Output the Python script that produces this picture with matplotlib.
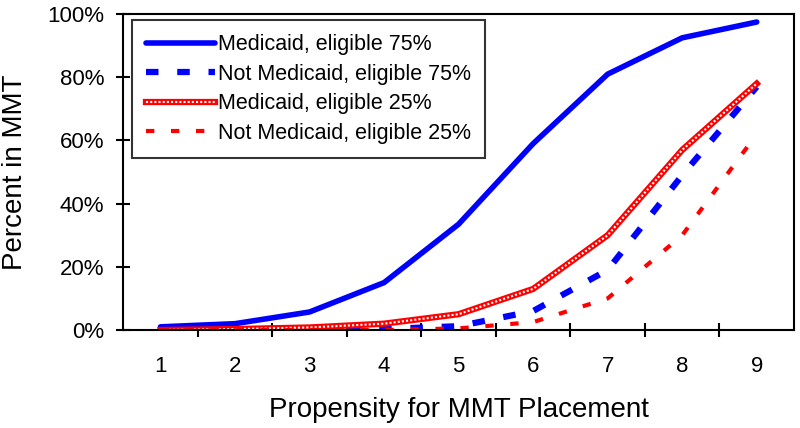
import matplotlib
matplotlib.use('Agg')
import matplotlib.pyplot as plt
from matplotlib.ticker import FixedLocator, PercentFormatter

plt.rcParams['font.family'] = ['Liberation Sans', 'DejaVu Sans']

# данные
propensity = [1, 2, 3, 4, 5, 6, 7, 8, 9]
medicaid_75 = [1, 2, 5.7, 15, 33.5, 59, 81, 92.5, 97.5]
not_medicaid_75 = [0, 0, 0, 0.3, 1.2, 6, 19, 49, 77]
medicaid_25 = [0, 0.3, 0.8, 2, 5, 13, 30, 57, 78]
not_medicaid_25 = [0, 0, 0, 0, 0.5, 2.5, 10, 30, 62]

fig = plt.figure(figsize=(8, 4.28), dpi=100)
ax = fig.add_axes([0.154, 0.229, 0.8385, 0.738])

l1, = ax.plot(propensity, medicaid_75, color='#0000ff', lw=4, solid_capstyle='round',
              label='Medicaid, eligible 75%')
l2, = ax.plot(propensity, not_medicaid_75, color='#0000ff', lw=4.5, ls=(0, (2, 3)),
              label='Not Medicaid, eligible 75%')
l3a, = ax.plot(propensity, medicaid_25, color='#ff0000', lw=4.5)
l3b, = ax.plot(propensity, medicaid_25, color='white', lw=1.5, ls=(0, (1, 1)))
l4, = ax.plot(propensity, not_medicaid_25, color='#ff0000', lw=3, ls=(0, (2, 4)),
              label='Not Medicaid, eligible 25%')

ax.set_xlim(0.5, 9.5)
ax.set_ylim(0, 100)
ax.set_xticks(propensity)
ax.tick_params(axis='x', which='major', length=0, labelsize=16, pad=19)
ax.xaxis.set_minor_locator(FixedLocator([x + 0.5 for x in propensity[:-1]]))
ax.tick_params(axis='x', which='minor', direction='inout', length=10, width=1.5)
ax.set_yticks([0, 20, 40, 60, 80, 100])
ax.yaxis.set_major_formatter(PercentFormatter(decimals=0))
ax.tick_params(axis='y', direction='inout', length=10, width=1.5, labelsize=16, pad=8.5)
for s in ax.spines.values():
    s.set_linewidth(1.5)

ax.set_xlabel('Propensity for MMT Placement', fontsize=20, labelpad=14)
ax.set_ylabel('Percent in MMT', fontsize=20, labelpad=14)

leg = ax.legend([l1, l2, (l3a, l3b), l4],
                ['Medicaid, eligible 75%', 'Not Medicaid, eligible 75%',
                 'Medicaid, eligible 25%', 'Not Medicaid, eligible 25%'],
                loc='upper left', bbox_to_anchor=(0.013, 0.981), borderaxespad=0,
                fontsize=15.5, frameon=True, fancybox=False, edgecolor='black',
                handlelength=3.2, handletextpad=0.15, labelspacing=0.4, borderpad=0.65)
leg.get_frame().set_linewidth(1.5)

fig.savefig('out.png', dpi=100)
